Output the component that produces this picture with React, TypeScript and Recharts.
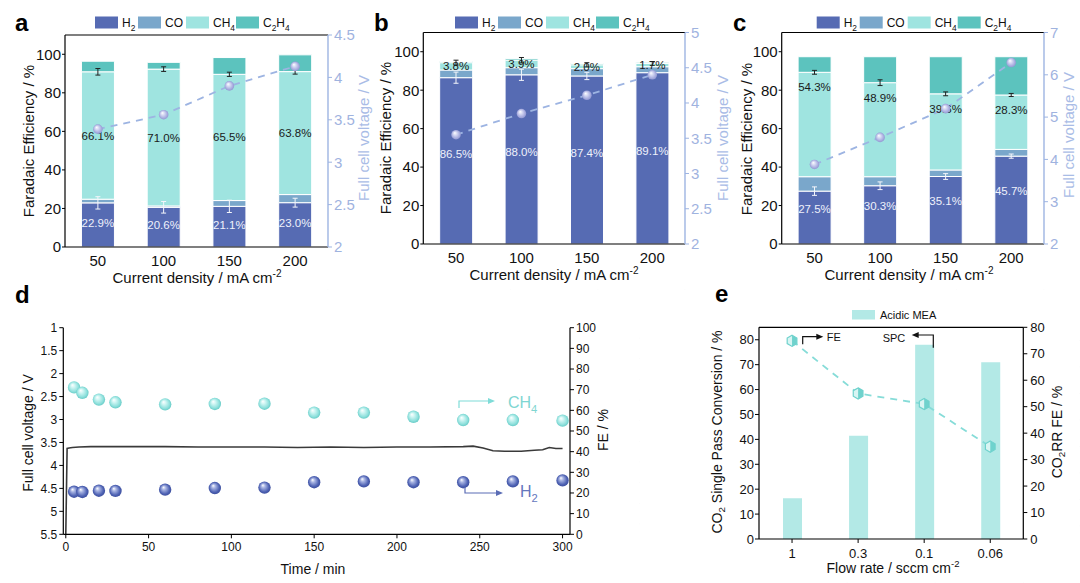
import React from 'react';
import { ComposedChart, Bar, Line, Scatter, XAxis, YAxis, ErrorBar, ReferenceLine } from 'recharts';

const FONT = '"Liberation Sans", Arial, Helvetica, sans-serif';

// ---------- shared ----------
const currentDensities = ['50', '100', '150', '200'];
const seriesNames = ['H2', 'CO', 'CH4', 'C2H4'];
const seriesColors = ['#566bb3', '#7aa7cb', '#9fe4e0', '#5cc3be'];
const feTicks = [0, 20, 40, 60, 80, 100];
const feMinorTicks = [10, 30, 50, 70, 90];
const categoryBoundaries = [1, 2, 3];

// ---------- panel a ----------
const aH2 = [22.9, 20.6, 21.1, 23.0];
const aCO = [1.9, 0.7, 3.0, 4.2];
const aCH4 = [66.1, 71.0, 65.5, 63.8];
const aC2H4 = [5.5, 3.5, 8.7, 8.7];
const aH2Err = [3.2, 3.0, 3.2, 2.3];
const aCH4Err = [1.7, 1.2, 1.1, 1.3];
const aVoltage = [3.39, 3.56, 3.9, 4.13];
const aVoltTicks = [2, 2.5, 3, 3.5, 4, 4.5];
const aVoltMinor = [2.25, 2.75, 3.25, 3.75, 4.25];

// ---------- panel b ----------
const bH2 = [86.5, 88.0, 87.4, 89.1];
const bCO = [4.0, 3.7, 3.8, 3.1];
const bCH4 = [3.8, 3.9, 2.0, 1.7];
const bC2H4 = [0.6, 0.8, 0.7, 0.6];
const bH2Err = [2.9, 2.9, 1.9, 0.5];
const bCH4Err = [1.3, 1.4, 1.1, 1.0];
const bVoltage = [3.55, 3.85, 4.11, 4.4];
const bVoltTicks = [2, 2.5, 3, 3.5, 4, 4.5, 5];
const bVoltMinor = [2.25, 2.75, 3.25, 3.75, 4.25, 4.75];

// ---------- panel c ----------
const cH2 = [27.5, 30.3, 35.1, 45.7];
const cCO = [7.5, 4.7, 3.4, 3.5];
const cCH4 = [54.3, 48.9, 39.6, 28.3];
const cC2H4 = [8.1, 13.5, 19.3, 19.9];
const cH2Err = [2.2, 2.0, 1.5, 1.1];
const cCH4Err = [1.0, 1.5, 1.0, 0.8];
const cVoltage = [3.88, 4.52, 5.2, 6.29];
const cVoltTicks = [2, 3, 4, 5, 6, 7];
const cVoltMinor = [2.5, 3.5, 4.5, 5.5, 6.5];

// ---------- panel d ----------
const dFETimes = [5, 10, 20, 30, 60, 90, 120, 150, 180, 210, 240, 270, 300];
const dCH4FE = [71.1, 68.5, 65.2, 63.9, 62.9, 63.1, 63.2, 58.9, 58.9, 56.9, 55.3, 55.3, 55.0];
const dH2FE = [20.6, 20.5, 21.1, 21.0, 21.6, 22.4, 22.6, 25.2, 25.6, 25.2, 25.2, 25.6, 26.1];
const dVTimes = [0, 0.8, 2, 4, 8, 15, 25, 40, 60, 80, 100, 120, 140, 160, 180, 200, 220, 240, 246, 252, 258, 265, 275, 283, 288, 292, 296, 300];
const dVoltage = [5.5, 3.63, 3.62, 3.61, 3.6, 3.59, 3.59, 3.59, 3.59, 3.6, 3.6, 3.6, 3.61, 3.6, 3.61, 3.6, 3.6, 3.59, 3.58, 3.62, 3.68, 3.69, 3.69, 3.67, 3.66, 3.61, 3.63, 3.63];
const dTimeTicks = [0, 50, 100, 150, 200, 250, 300];
const dTimeMinor = [25, 75, 125, 175, 225, 275];
const dVoltTicks = [1, 1.5, 2, 2.5, 3, 3.5, 4, 4.5, 5, 5.5];
const dVoltMinor = [1.25, 1.75, 2.25, 2.75, 3.25, 3.75, 4.25, 4.75, 5.25];
const dFETicks = [0, 10, 20, 30, 40, 50, 60, 70, 80, 90, 100];
const dFEMinor = [5, 15, 25, 35, 45, 55, 65, 75, 85, 95];

// ---------- panel e ----------
const flowRates = ['1', '0.3', '0.1', '0.06'];
const eSPC = [16.4, 41.5, 78.0, 71.0];
const eFE = [74.9, 55.0, 51.0, 34.9];
const eLeftTicks = [0, 10, 20, 30, 40, 50, 60, 70, 80];
const eLeftMinor = [5, 15, 25, 35, 45, 55, 65, 75];
const eRightTicks = [0, 10, 20, 30, 40, 50, 60, 70, 80];
const eRightMinor = [5, 15, 25, 35, 45, 55, 65, 75];

const V_LINE = '#9db4e2';
const V_TEXT = '#9fb3df';
const V_TITLE = '#a9bce6';
const NO_LABEL = () => '';
const TINY = 0.001;

// ---------- helpers ----------
function chem(text: string, fs: number) {
  const runs: { t: string; sub: boolean }[] = [];
  for (let k = 0; k < text.length; k++) {
    const ch = text[k];
    const prev = k > 0 ? text[k - 1] : '';
    const isSub = /[0-9]/.test(ch) && /[A-Za-z]/.test(prev);
    const last = runs[runs.length - 1];
    if (last && last.sub === isSub) last.t += ch;
    else runs.push({ t: ch, sub: isSub });
  }
  const shift = fs * 0.3;
  let inSub = false;
  return runs.map((r, i) => {
    let dy = 0;
    if (r.sub && !inSub) dy = shift;
    if (!r.sub && inSub) dy = -shift;
    inSub = r.sub;
    return (
      <tspan key={i} dy={dy} fontSize={r.sub ? fs * 0.7 : fs}>
        {r.t}
      </tspan>
    );
  });
}

function Sphere({ cx, cy, r, id, light, base, dark }: any) {
  return (
    <g>
      <defs>
        <radialGradient id={id} cx="50%" cy="50%" r="55%" fx="36%" fy="30%">
          <stop offset="0%" stopColor="#ffffff" />
          <stop offset="28%" stopColor={light} />
          <stop offset="72%" stopColor={base} />
          <stop offset="100%" stopColor={dark} />
        </radialGradient>
      </defs>
      <circle cx={cx} cy={cy} r={r} fill={`url(#${id})`} />
    </g>
  );
}

function Hex({ cx, cy, r }: any) {
  const c = r * Math.cos(Math.PI / 6);
  const full = `${cx},${cy - r} ${cx + c},${cy - r / 2} ${cx + c},${cy + r / 2} ${cx},${cy + r} ${cx - c},${cy + r / 2} ${cx - c},${cy - r / 2}`;
  const right = `${cx},${cy - r} ${cx + c},${cy - r / 2} ${cx + c},${cy + r / 2} ${cx},${cy + r}`;
  return (
    <g>
      <polygon points={full} fill="#d8f5f3" />
      <polygon points={right} fill="#6fd2cd" />
      <polygon points={full} fill="none" stroke="#6fd2cd" strokeWidth={1.2} />
    </g>
  );
}

const blackTick = { fontSize: 15, fill: '#111', fontFamily: FONT };
const rightTick = { fontSize: 15, fill: V_TEXT, fontFamily: FONT };

// ---------- FE panels (a, b, c) ----------
function FEPanel(props: any) {
  const {
    id, left, yW, rW, top, xH, h2, co, ch4, c2h4, h2Err, ch4Err, volt, vDomain, vTicks, vMinor, h2Dy, ch4Dy, ch4AtTop,
  } = props;
  const rows = currentDensities.map((cd, i) => {
    const ch4Top = h2[i] + co[i] + ch4[i];
    return {
      cd,
      h2: h2[i],
      co: co[i],
      ch4: ch4[i],
      c2h4: c2h4[i],
      h2Err: h2Err[i],
      ch4Err: ch4Err[i],
      v: volt[i],
      h2Top: h2[i],
      ch4Top,
      h2Mid: h2[i] / 2,
      ch4Mid: ch4AtTop ? ch4Top : h2[i] + co[i] + ch4[i] / 2,
    };
  });
  const keys = ['h2', 'co', 'ch4', 'c2h4'];
  return (
    <div style={{ position: 'absolute', left, top: 0, width: 360, height: 290 }}>
      <ComposedChart
        width={360}
        height={290}
        data={rows}
        margin={{ top, right: 0, bottom: 0, left: 0 }}
        barCategoryGap="25%"
        style={{ fontFamily: FONT }}
      >
        <XAxis
          xAxisId="bnd"
          type="number"
          domain={[0, 4]}
          ticks={categoryBoundaries}
          height={TINY}
          tickFormatter={NO_LABEL}
          tickSize={4}
          tickLine={{ stroke: '#000' }}
          axisLine={false}
          allowDataOverflow
        />
        <XAxis
          dataKey="cd"
          height={xH}
          tick={blackTick}
          tickLine={false}
          tickMargin={2}
          axisLine={{ stroke: '#000', strokeWidth: 1.2 }}
        />
        <YAxis
          yAxisId="feMinor"
          domain={[0, 110]}
          ticks={feMinorTicks}
          width={TINY}
          tickFormatter={NO_LABEL}
          tickSize={2}
          tickLine={{ stroke: '#000' }}
          axisLine={false}
          allowDataOverflow
        />
        <YAxis
          yAxisId="fe"
          domain={[0, 110]}
          ticks={feTicks}
          width={yW}
          tick={blackTick}
          tickSize={3}
          tickMargin={1}
          tickLine={{ stroke: '#000' }}
          axisLine={{ stroke: '#000', strokeWidth: 1.2 }}
          allowDataOverflow
        />
        <YAxis
          yAxisId="vMinor"
          orientation="right"
          domain={vDomain}
          ticks={vMinor}
          width={TINY}
          tickFormatter={NO_LABEL}
          tickSize={2.5}
          tickLine={{ stroke: V_LINE }}
          axisLine={false}
          allowDataOverflow
        />
        <YAxis
          yAxisId="v"
          orientation="right"
          domain={vDomain}
          ticks={vTicks}
          width={rW}
          tick={rightTick}
          tickSize={4}
          tickMargin={2}
          tickLine={{ stroke: V_LINE }}
          axisLine={{ stroke: V_LINE, strokeWidth: 1.4 }}
          allowDataOverflow
        />
        <ReferenceLine yAxisId="fe" y={110} stroke="#000" strokeWidth={1.2} />
        {keys.map((k, i) => (
          <Bar
            key={k}
            yAxisId="fe"
            dataKey={k}
            stackId="fe"
            fill={seriesColors[i]}
            stroke="#ffffff"
            strokeWidth={1}
            isAnimationActive={false}
          />
        ))}
        <Line yAxisId="fe" dataKey="h2Top" stroke="none" dot={false} activeDot={false} isAnimationActive={false}>
          <ErrorBar dataKey="h2Err" width={2.5} stroke="#f4f6fb" strokeWidth={1} direction="y" />
        </Line>
        <Line yAxisId="fe" dataKey="ch4Top" stroke="none" dot={false} activeDot={false} isAnimationActive={false}>
          <ErrorBar dataKey="ch4Err" width={2.5} stroke="#222" strokeWidth={1} direction="y" />
        </Line>
        <Line
          yAxisId="fe"
          dataKey="h2Mid"
          stroke="none"
          activeDot={false}
          isAnimationActive={false}
          dot={(p: any) => (
            <text
              key={`h2l${p.index}`}
              x={p.cx}
              y={p.cy + h2Dy}
              textAnchor="middle"
              dominantBaseline="central"
              fontSize={11.5}
              fill="#eef1fb"
              fontFamily={FONT}
            >
              {p.payload.h2.toFixed(1)}%
            </text>
          )}
        />
        <Line
          yAxisId="fe"
          dataKey="ch4Mid"
          stroke="none"
          activeDot={false}
          isAnimationActive={false}
          dot={(p: any) => (
            <text
              key={`ch4l${p.index}`}
              x={p.cx}
              y={p.cy + ch4Dy}
              textAnchor="middle"
              dominantBaseline="central"
              fontSize={11.5}
              fill="#1a1a1a"
              fontFamily={FONT}
            >
              {p.payload.ch4.toFixed(1)}%
            </text>
          )}
        />
        <Line
          yAxisId="v"
          dataKey="v"
          stroke={V_LINE}
          strokeWidth={1.8}
          strokeDasharray="7 6"
          activeDot={false}
          isAnimationActive={false}
          dot={(p: any) => (
            <Sphere
              key={`vs${p.index}`}
              cx={p.cx}
              cy={p.cy}
              r={4.8}
              id={`vsph-${id}`}
              light="#dcdff5"
              base="#a9aee0"
              dark="#8b91cd"
            />
          )}
        />
      </ComposedChart>
    </div>
  );
}

function FELegend({ x0 }: { x0: number }) {
  const rectOff = [0, 43, 91, 141];
  return (
    <g>
      {seriesNames.map((n, i) => (
        <g key={n}>
          <rect x={x0 + rectOff[i]} y={16.5} width={23} height={12} fill={seriesColors[i]} />
          <text x={x0 + rectOff[i] + 27} y={27} fontSize={12} fill="#111" fontFamily={FONT}>
            {chem(n, 12)}
          </text>
        </g>
      ))}
    </g>
  );
}

function VText({ x, y, fs, fill, children }: any) {
  return (
    <text
      transform={`translate(${x},${y}) rotate(-90)`}
      textAnchor="middle"
      dominantBaseline="central"
      fontSize={fs}
      fill={fill || '#111'}
      fontFamily={FONT}
    >
      {children}
    </text>
  );
}

function CDTitle({ x, y }: { x: number; y: number }) {
  return (
    <text x={x} y={y} textAnchor="middle" fontSize={15} fill="#111" fontFamily={FONT}>
      Current density / mA cm
      <tspan dy={-6} fontSize={10}>
        -2
      </tspan>
    </text>
  );
}

function Arrow({ pts, color, dir }: { pts: number[][]; color: string; dir: 'left' | 'right' }) {
  const [ex, ey] = pts[pts.length - 1];
  const head =
    dir === 'right'
      ? `${ex},${ey} ${ex - 7},${ey - 3} ${ex - 7},${ey + 3}`
      : `${ex},${ey} ${ex + 7},${ey - 3} ${ex + 7},${ey + 3}`;
  const linePts = pts.map((p, i) =>
    i === pts.length - 1 ? `${dir === 'right' ? p[0] - 5 : p[0] + 5},${p[1]}` : p.join(','),
  );
  return (
    <g>
      <polyline points={linePts.join(' ')} fill="none" stroke={color} strokeWidth={1.2} />
      <polygon points={head} fill={color} />
    </g>
  );
}

// ---------- panel d ----------
function PanelD() {
  const vRows = dVTimes.map((t, i) => ({ t, v: dVoltage[i] }));
  const ch4Rows = dFETimes.map((t, i) => ({ t, fe: dCH4FE[i] }));
  const h2Rows = dFETimes.map((t, i) => ({ t, fe: dH2FE[i] }));
  const tick12 = { fontSize: 12, fill: '#111', fontFamily: FONT };
  const dom: [number, number] = [-1.5, 304.5];
  return (
    <div style={{ position: 'absolute', left: 0, top: 290, width: 640, height: 293 }}>
      <ComposedChart width={640} height={293} margin={{ top: 37.7, right: 0, bottom: 0, left: 0 }} style={{ fontFamily: FONT }}>
        <XAxis
          xAxisId="bMinor"
          type="number"
          domain={dom}
          ticks={dTimeMinor}
          height={TINY}
          tickFormatter={NO_LABEL}
          tickSize={2.5}
          tickLine={{ stroke: '#000' }}
          axisLine={false}
          allowDataOverflow
        />
        <XAxis
          xAxisId="b"
          type="number"
          dataKey="t"
          domain={dom}
          ticks={dTimeTicks}
          height={48.7}
          tick={tick12}
          tickSize={4}
          tickMargin={4}
          tickLine={{ stroke: '#000' }}
          axisLine={{ stroke: '#000', strokeWidth: 1.2 }}
          allowDataOverflow
        />
        <XAxis
          xAxisId="top"
          orientation="top"
          type="number"
          domain={dom}
          ticks={dTimeTicks}
          height={0}
          mirror
          tickFormatter={NO_LABEL}
          tickSize={4}
          tickLine={{ stroke: '#000' }}
          axisLine={{ stroke: '#000', strokeWidth: 1.2 }}
          allowDataOverflow
        />
        <XAxis
          xAxisId="topMinor"
          orientation="top"
          type="number"
          domain={dom}
          ticks={dTimeMinor}
          height={0}
          mirror
          tickFormatter={NO_LABEL}
          tickSize={2.5}
          tickLine={{ stroke: '#000' }}
          axisLine={false}
          allowDataOverflow
        />
        <YAxis
          yAxisId="vMinor"
          reversed
          domain={[1, 5.5]}
          ticks={dVoltMinor}
          width={TINY}
          tickFormatter={NO_LABEL}
          tickSize={2.5}
          tickLine={{ stroke: '#000' }}
          axisLine={false}
          allowDataOverflow
        />
        <YAxis
          yAxisId="v"
          reversed
          domain={[1, 5.5]}
          ticks={dVoltTicks}
          width={63.3}
          tick={tick12}
          tickSize={4}
          tickMargin={2}
          tickLine={{ stroke: '#000' }}
          axisLine={{ stroke: '#000', strokeWidth: 1.2 }}
          allowDataOverflow
        />
        <YAxis
          yAxisId="feMinor"
          orientation="right"
          domain={[0, 100]}
          ticks={dFEMinor}
          width={TINY}
          tickFormatter={NO_LABEL}
          tickSize={2.5}
          tickLine={{ stroke: '#000' }}
          axisLine={false}
          allowDataOverflow
        />
        <YAxis
          yAxisId="fe"
          orientation="right"
          domain={[0, 100]}
          ticks={dFETicks}
          width={70}
          tick={tick12}
          tickSize={4}
          tickMargin={2}
          tickLine={{ stroke: '#000' }}
          axisLine={{ stroke: '#000', strokeWidth: 1.2 }}
          allowDataOverflow
        />
        <Line
          xAxisId="b"
          yAxisId="v"
          data={vRows}
          dataKey="v"
          type="linear"
          stroke="#3a3a3a"
          strokeWidth={1.6}
          dot={false}
          activeDot={false}
          isAnimationActive={false}
        />
        <Scatter
          xAxisId="b"
          yAxisId="fe"
          data={ch4Rows}
          dataKey="fe"
          isAnimationActive={false}
          shape={(p: any) => (
            <Sphere cx={p.cx} cy={p.cy} r={6.2} id="dch4" light="#d2f6f4" base="#8ee0dc" dark="#5cc5c0" />
          )}
        />
        <Scatter
          xAxisId="b"
          yAxisId="fe"
          data={h2Rows}
          dataKey="fe"
          isAnimationActive={false}
          shape={(p: any) => (
            <Sphere cx={p.cx} cy={p.cy} r={6.2} id="dh2" light="#a9b5e3" base="#4f63b4" dark="#364898" />
          )}
        />
      </ComposedChart>
    </div>
  );
}

// ---------- panel e ----------
function PanelE() {
  const rows = flowRates.map((f, i) => ({ flow: f, spc: eSPC[i], fe: eFE[i] }));
  const tick13 = { fontSize: 13, fill: '#111', fontFamily: FONT };
  return (
    <div style={{ position: 'absolute', left: 690, top: 290, width: 390, height: 293 }}>
      <ComposedChart width={390} height={293} data={rows} margin={{ top: 37.3, right: 0, bottom: 0, left: 0 }} style={{ fontFamily: FONT }}>
        <XAxis
          xAxisId="bnd"
          type="number"
          domain={[0, 4]}
          ticks={categoryBoundaries}
          height={TINY}
          tickFormatter={NO_LABEL}
          tickSize={2.5}
          tickLine={{ stroke: '#000' }}
          axisLine={false}
          allowDataOverflow
        />
        <XAxis
          dataKey="flow"
          height={44}
          tick={tick13}
          tickSize={4}
          tickMargin={6}
          tickLine={{ stroke: '#000' }}
          axisLine={{ stroke: '#000', strokeWidth: 1.2 }}
        />
        <YAxis
          yAxisId="lMinor"
          domain={[0, 85]}
          ticks={eLeftMinor}
          width={TINY}
          tickFormatter={NO_LABEL}
          tickSize={2.5}
          tickLine={{ stroke: '#000' }}
          axisLine={false}
          allowDataOverflow
        />
        <YAxis
          yAxisId="l"
          domain={[0, 85]}
          ticks={eLeftTicks}
          width={69}
          tick={tick13}
          tickSize={4}
          tickMargin={1}
          tickLine={{ stroke: '#000' }}
          axisLine={{ stroke: '#000', strokeWidth: 1.2 }}
          allowDataOverflow
        />
        <YAxis
          yAxisId="rMinor"
          orientation="right"
          domain={[0, 80]}
          ticks={eRightMinor}
          width={TINY}
          tickFormatter={NO_LABEL}
          tickSize={2.5}
          tickLine={{ stroke: '#000' }}
          axisLine={false}
          allowDataOverflow
        />
        <YAxis
          yAxisId="r"
          orientation="right"
          domain={[0, 80]}
          ticks={eRightTicks}
          width={56.7}
          tick={tick13}
          tickSize={4}
          tickMargin={3}
          tickLine={{ stroke: '#000' }}
          axisLine={{ stroke: '#000', strokeWidth: 1.2 }}
          allowDataOverflow
        />
        <ReferenceLine yAxisId="l" y={85} stroke="#000" strokeWidth={1.2} />
        <Bar yAxisId="l" dataKey="spc" fill="#b3e9e6" barSize={19} isAnimationActive={false} />
        <Line
          yAxisId="r"
          dataKey="fe"
          stroke="#86dcd8"
          strokeWidth={1.8}
          strokeDasharray="7 6"
          activeDot={false}
          isAnimationActive={false}
          dot={(p: any) => <Hex key={`hx${p.index}`} cx={p.cx} cy={p.cy} r={5.6} />}
        />
      </ComposedChart>
    </div>
  );
}

// ---------- overlay (titles, legends, annotations) ----------
function Overlay() {
  return (
    <svg width={1080} height={583} style={{ position: 'absolute', left: 0, top: 0, pointerEvents: 'none' }}>
      <text x={15} y={31} fontSize={24} fontWeight="bold" fontFamily={FONT}>a</text>
      <text x={374} y={31} fontSize={24} fontWeight="bold" fontFamily={FONT}>b</text>
      <text x={733} y={31} fontSize={24} fontWeight="bold" fontFamily={FONT}>c</text>
      <text x={15} y={303} fontSize={24} fontWeight="bold" fontFamily={FONT}>d</text>
      <text x={715} y={302} fontSize={24} fontWeight="bold" fontFamily={FONT}>e</text>

      <FELegend x0={95} />
      <FELegend x0={455} />
      <FELegend x0={816.7} />

      <VText x={28} y={141} fs={15}>Faradaic Efficiency / %</VText>
      <VText x={363} y={138} fs={15} fill={V_TITLE}>Full cell voltage / V</VText>
      <CDTitle x={197} y={283} />
      <VText x={385} y={138} fs={15}>Faradaic Efficiency / %</VText>
      <VText x={722} y={138} fs={15} fill={V_TITLE}>Full cell voltage / V</VText>
      <CDTitle x={554} y={280} />
      <VText x={746.7} y={139} fs={15}>Faradaic Efficiency / %</VText>
      <VText x={1068} y={135} fs={15} fill={V_TITLE}>Full cell voltage / V</VText>
      <CDTitle x={909} y={280} />

      <VText x={28} y={433} fs={14}>Full cell voltage / V</VText>
      <VText x={603} y={430} fs={14}>FE / %</VText>
      <text x={313} y={574} textAnchor="middle" fontSize={14} fontFamily={FONT} fill="#111">Time / min</text>
      <Arrow pts={[[459, 408], [459, 401], [495, 401]]} color="#7fdcd8" dir="right" />
      <text x={508} y={408} fontSize={16} fill="#7fd6d2" fontFamily={FONT}>{chem('CH4', 16)}</text>
      <Arrow pts={[[465, 487], [465, 493], [503, 493]]} color="#5a6cb5" dir="right" />
      <text x={520} y={497} fontSize={16} fill="#6577bd" fontFamily={FONT}>{chem('H2', 16)}</text>

      <rect x={852} y={310} width={23} height={9.5} fill="#b3e9e6" />
      <text x={880} y={318.5} fontSize={11} fill="#111" fontFamily={FONT}>Acidic MEA</text>
      <VText x={716.7} y={432} fs={14}>{chem('CO2 Single Pass Conversion / %', 14)}</VText>
      <VText x={1056.7} y={432} fs={14}>{chem('CO2RR FE / %', 14)}</VText>
      <text x={893} y={573} textAnchor="middle" fontSize={14} fontFamily={FONT} fill="#111">
        Flow rate / sccm cm
        <tspan dy={-6} fontSize={9.5}>-2</tspan>
      </text>
      <Arrow pts={[[802.7, 344.3], [802.7, 336.7], [823.3, 336.7]]} color="#111" dir="right" />
      <text x={826.7} y={341} fontSize={11} fill="#111" fontFamily={FONT}>FE</text>
      <Arrow pts={[[933.3, 347.7], [933.3, 335], [911.7, 335]]} color="#111" dir="left" />
      <text x={882.7} y={341.7} fontSize={11} fill="#111" fontFamily={FONT}>SPC</text>
    </svg>
  );
}

export default function App() {
  return (
    <div
      style={{
        position: 'absolute',
        left: 0,
        top: 0,
        width: 1080,
        height: 583,
        background: '#ffffff',
        overflow: 'hidden',
        fontFamily: FONT,
      }}
    >
      <FEPanel
        id="a" left={0} yW={65} rW={32} top={35} xH={43}
        h2={aH2} co={aCO} ch4={aCH4} c2h4={aC2H4} h2Err={aH2Err} ch4Err={aCH4Err}
        volt={aVoltage} vDomain={[2, 4.5]} vTicks={aVoltTicks} vMinor={aVoltMinor}
        h2Dy={-2} ch4Dy={0} ch4AtTop={false}
      />
      <FEPanel
        id="b" left={360} yW={63.3} rW={35} top={32.5} xH={46}
        h2={bH2} co={bCO} ch4={bCH4} c2h4={bC2H4} h2Err={bH2Err} ch4Err={bCH4Err}
        volt={bVoltage} vDomain={[2, 5]} vTicks={bVoltTicks} vMinor={bVoltMinor}
        h2Dy={-7} ch4Dy={0} ch4AtTop={false}
      />
      <FEPanel
        id="c" left={720} yW={61.7} rW={36} top={32.5} xH={46}
        h2={cH2} co={cCO} ch4={cCH4} c2h4={cC2H4} h2Err={cH2Err} ch4Err={cCH4Err}
        volt={cVoltage} vDomain={[2, 7]} vTicks={cVoltTicks} vMinor={cVoltMinor}
        h2Dy={-9} ch4Dy={15} ch4AtTop={true}
      />
      <PanelD />
      <PanelE />
      <Overlay />
    </div>
  );
}
